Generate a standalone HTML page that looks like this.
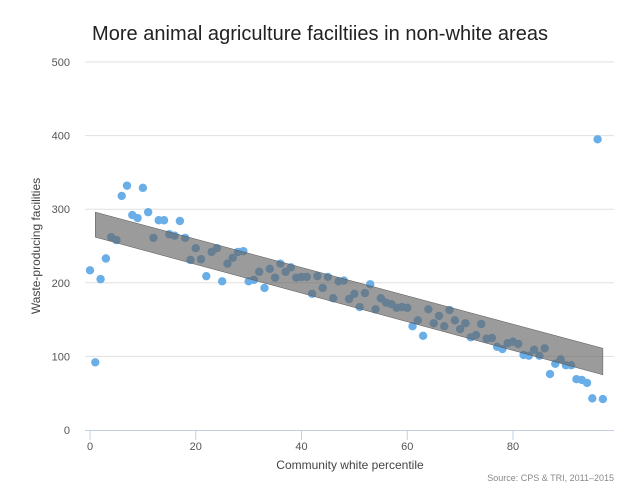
<!DOCTYPE html>
<html><head><meta charset="utf-8"><style>
body{margin:0;background:#fff;}
svg{display:block;font-family:"Liberation Sans",sans-serif;}
</style></head><body>
<svg id="chart" width="638" height="498" viewBox="0 0 638 498" xmlns="http://www.w3.org/2000/svg">
<text x="92" y="40" font-size="20" fill="#222" textLength="456">More animal agriculture faciltiies in non-white areas</text>
<g id="grid"></g>
<g id="points"></g>
<g id="band"></g>
<g id="axes"></g>
<text x="350" y="469" font-size="12" fill="#444" text-anchor="middle">Community white percentile</text>
<text transform="translate(40,246) rotate(-90)" font-size="12" fill="#444" text-anchor="middle">Waste-producing facilities</text>
<text x="614" y="481" font-size="9" fill="#888" text-anchor="end">Source: CPS &amp; TRI, 2011–2015</text>
</svg>
<script>
const xValues=[0,1,2,3,4,5,6,7,8,9,10,11,12,13,14,15,16,17,18,19,20,21,22,23,24,25,26,27,28,29,30,31,32,33,34,35,36,37,38,39,40,41,42,43,44,45,46,47,48,49,50,51,52,53,54,55,56,57,58,59,60,61,62,63,64,65,66,67,68,69,70,71,72,73,74,75,76,77,78,79,80,81,82,83,84,85,86,87,88,89,90,91,92,93,94,95,96,97];
const yValues=[217,92,205,233,262,258,318,332,292,288,329,296,261,285,285,266,264,284,261,231,247,232,209,242,247,202,226,234,242,243,202,204,215,193,219,207,226,215,221,207,208,208,185,209,193,208,179,202,203,178,185,167,186,198,164,179,173,171,166,167,166,141,149,128,164,145,155,141,163,149,137,145,126,129,144,124,125,113,110,118,120,117,102,101,109,101,111,76,90,96,88,88,69,68,64,43,395,42];
const bandX=[1,97];
const bandUpper=[296,111];
const bandLower=[262,75];
const xTicks=[0,20,40,60,80];
const yTicks=[0,100,200,300,400,500];
const NS="http://www.w3.org/2000/svg";
const X=v=>90+v*(513-90)/80;
const Y=v=>430-v*0.736;
function mk(t,a,p){const e=document.createElementNS(NS,t);for(const k in a)e.setAttribute(k,a[k]);p.appendChild(e);return e;}
const grid=document.getElementById('grid'),axes=document.getElementById('axes');
yTicks.forEach(t=>{
 if(t>0){const l=mk('line',{x1:85,x2:614,y1:Y(t),y2:Y(t),stroke:'#e0e0e0','stroke-width':1},grid);
 
 }
 const tx=mk('text',{x:70,y:Y(t)+4,'font-size':11,fill:'#555','text-anchor':'end'},axes);tx.textContent=t;
 
 
});
const ax=mk('line',{x1:85,x2:614,y1:430.5,y2:430.5,stroke:'#c0d0e0','stroke-width':1},axes);


xTicks.forEach(t=>{
 const tk=mk('line',{x1:X(t),x2:X(t),y1:430,y2:440,stroke:'#c0d0e0'},axes);
 
 
 const tx=mk('text',{x:X(t),y:450,'font-size':11,fill:'#555','text-anchor':'middle'},axes);tx.textContent=t;
 
 
});
let d='M'+bandX.map((x,i)=>X(x)+','+Y(bandUpper[i])).join(' L');
d+=' L'+bandX.map((x,i)=>X(x)+','+Y(bandLower[i])).reverse().join(' L')+' Z';
const b=mk('path',{d:d,fill:'#666','fill-opacity':0.65,stroke:'#555','stroke-width':0.5},document.getElementById('band'));


const pts=document.getElementById('points');
xValues.forEach((x,i)=>{
 const c=mk('circle',{cx:X(x),cy:Y(yValues[i]),r:4.2,fill:'#6aaee8'},pts);
 
 
});
</script>
</body></html>
